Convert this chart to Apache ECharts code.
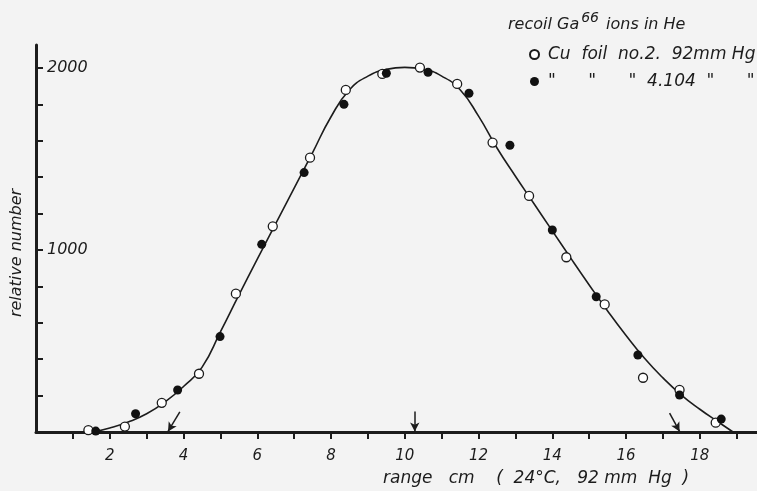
<!DOCTYPE html>
<html>
<head>
<meta charset="utf-8">
<script src="https://cdn.jsdelivr.net/npm/echarts@6/dist/echarts.min.js"></script>
<style>
  html, body { margin: 0; padding: 0; background: #f3f3f3; }
  #chart { width: 757px; height: 491px; }
</style>
</head>
<body>
<div id="chart"></div>
<script>
// measured points, Cu foil no.2 (open) and no.4 (filled)
var openX = [1.42, 2.41, 3.41, 4.42, 5.42, 6.42, 7.43, 8.40, 9.39, 10.41, 11.42, 12.38, 13.37, 14.38, 15.42, 16.46, 17.45, 18.43];
var openY = [10, 30, 160, 320, 760, 1130, 1507, 1879, 1967, 2002, 1912, 1590, 1297, 960, 701, 298, 231, 51];
var fillX = [1.62, 2.70, 3.84, 4.99, 6.12, 7.27, 8.35, 9.50, 10.63, 11.74, 12.85, 14.00, 15.19, 16.32, 17.45, 18.58];
var fillY = [5, 100, 231, 524, 1031, 1425, 1800, 1971, 1976, 1861, 1575, 1110, 743, 423, 203, 71];
// fitted curve
var curveX = [1.55, 2, 2.5, 3, 3.5, 4, 4.5, 5, 5.5, 6, 6.5, 7, 7.5, 8, 8.5, 9, 9.5, 10, 10.5, 11, 11.5, 12, 12.5, 13, 13.5, 14, 14.5, 15, 15.5, 16, 16.5, 17, 17.5, 18, 18.5, 18.9];
var curveY = [0, 22, 55, 100, 165, 250, 355, 550, 752, 950, 1145, 1340, 1535, 1732, 1880, 1955, 1992, 2003, 1993, 1955, 1880, 1735, 1560, 1405, 1255, 1105, 955, 808, 665, 530, 405, 297, 203, 125, 55, 0];
// arrows on the range axis [x from, y from, x to, y to]
var arrows = [[3.90, 110, 3.58, 3], [10.27, 113, 10.27, 3], [17.18, 104, 17.45, 3]];
var xTicks = [1, 2, 3, 4, 5, 6, 7, 8, 9, 10, 11, 12, 13, 14, 15, 16, 17, 18, 19];
var xLabels = [2, 4, 6, 8, 10, 12, 14, 16, 18];
var yTicks = [200, 400, 600, 800, 1000, 1200, 1400, 1600, 1800, 2000];
var yLabels = [1000, 2000];

function pairs(xs, ys) {
  return xs.map(function (x, i) { return [x, ys[i]]; });
}

var ink = '#1c1c1c';
var font = 'DejaVu Sans';
var chart = echarts.init(document.getElementById('chart'));
var option = {
  backgroundColor: '#f3f3f3',
  animation: false,
  textStyle: { fontFamily: font, fontStyle: 'italic', color: ink },
  title: {
    left: 503,
    top: 4,
    text: '{a|recoil Ga}{s|66}{a| ions in He}',
    textStyle: {
      rich: {
        a: { fontFamily: font, fontStyle: 'italic', fontWeight: 'normal', fontSize: 16, color: ink, padding: [8, 0, 0, 0] },
        s: { fontFamily: font, fontStyle: 'italic', fontWeight: 'normal', fontSize: 14, color: ink, padding: [0, 2, 6, 2] }
      }
    }
  },
  legend: {
    orient: 'vertical',
    left: 524,
    top: 41,
    itemWidth: 9,
    itemHeight: 9,
    itemGap: 10,
    textStyle: { fontFamily: font, fontStyle: 'italic', fontSize: 17, color: ink, padding: [0, 0, 0, 4] },
    data: ['Cu  foil  no.2.  92mm Hg', '"      "      "  4.104  "      "']
  },
  grid: { left: 36, right: 0, top: 45, bottom: 59 },
  xAxis: {
    type: 'value',
    min: 0,
    max: 19.55,
    interval: 1,
    splitLine: { show: false },
    axisLine: { lineStyle: { color: ink, width: 3 } },
    axisTick: { length: 7, lineStyle: { color: ink, width: 2 }, customValues: xTicks },
    axisLabel: { margin: 17, fontSize: 15, color: ink, fontStyle: 'italic', customValues: xLabels }
  },
  yAxis: {
    type: 'value',
    min: 0,
    max: 2126,
    interval: 200,
    splitLine: { show: false },
    axisLine: { lineStyle: { color: ink, width: 3 } },
    axisTick: { inside: true, length: 7, lineStyle: { color: ink, width: 2 }, customValues: yTicks },
    axisLabel: {
      inside: true, margin: 11, fontSize: 16, color: ink, fontStyle: 'italic', customValues: yLabels,
      formatter: function (v) { return String(v); }
    }
  },
  graphic: [
    {
      type: 'text',
      left: 383,
      top: 470,
      style: {
        text: 'range   cm    (  24°C,   92 mm  Hg  )',
        font: 'italic 17px "DejaVu Sans"',
        fill: ink
      }
    },
    {
      type: 'text',
      x: 17,
      y: 253,
      rotation: Math.PI / 2,
      style: {
        text: 'relative number',
        font: 'italic 16px "DejaVu Sans"',
        fill: ink,
        align: 'center',
        verticalAlign: 'middle'
      }
    }
  ],
  series: [
    {
      name: 'curve',
      type: 'line',
      smooth: 0.5,
      symbol: 'none',
      lineStyle: { color: ink, width: 1.6 },
      data: pairs(curveX, curveY),
      z: 2,
      markLine: {
        silent: true,
        symbol: ['none', 'arrow'],
        symbolSize: [7, 9],
        label: { show: false },
        lineStyle: { color: ink, width: 1.5, type: 'solid' },
        data: arrows.map(function (a) {
          return [{ coord: [a[0], a[1]] }, { coord: [a[2], a[3]] }];
        })
      }
    },
    {
      name: 'Cu  foil  no.2.  92mm Hg',
      type: 'scatter',
      symbol: 'circle',
      symbolSize: 9,
      itemStyle: { color: '#ffffff', borderColor: ink, borderWidth: 1.3, opacity: 1 },
      data: pairs(openX, openY),
      z: 3
    },
    {
      name: '"      "      "  4.104  "      "',
      type: 'scatter',
      symbol: 'circle',
      symbolSize: 9,
      itemStyle: { color: '#111111', opacity: 1 },
      data: pairs(fillX, fillY),
      z: 4
    }
  ]
};
chart.setOption(option);
window.addEventListener('resize', function () {
  chart.resize();
});
</script>
</body>
</html>
